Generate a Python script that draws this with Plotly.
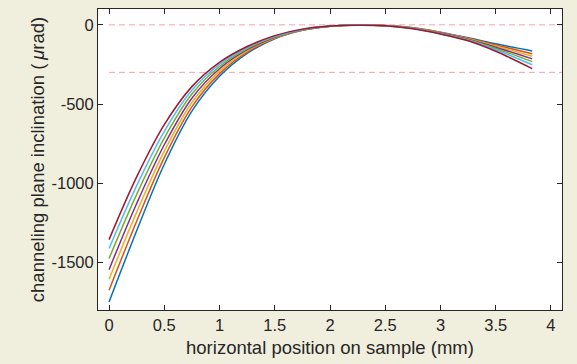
import plotly.graph_objects as go

x_pos = [0, 0.25, 0.5, 0.75, 1.0, 1.25, 1.5, 1.75, 2.0, 2.25, 2.5, 2.75, 3.0, 3.25, 3.5, 3.83]

s1 = [-1749, -1300, -880, -545, -325, -180, -88, -35, -9, 0, -4, -18, -46, -82, -120, -165]
s2 = [-1675, -1240, -838, -518, -308, -172, -85, -34, -9, 0, -4, -19, -48, -85, -127, -182]
s3 = [-1606, -1182, -797, -490, -292, -164, -82, -33, -9, 0, -4, -20, -50, -88, -134, -198]
s4 = [-1545, -1128, -757, -463, -277, -157, -79, -31, -9, -1, -5, -21, -52, -91, -141, -215]
s5 = [-1475, -1070, -715, -437, -263, -150, -76, -30, -9, -1, -5, -22, -54, -94, -149, -232]
s6 = [-1412, -1015, -672, -413, -250, -143, -72, -29, -8, -1, -5, -23, -56, -97, -157, -252]
s7 = [-1356, -960, -630, -390, -237, -137, -68, -27, -8, -2, -6, -25, -58, -101, -167, -276]

series = [s1, s2, s3, s4, s5, s6, s7]
colors = ["#0072BD", "#D95319", "#EDB120", "#7E2F8E", "#77AC30", "#4DBEEE", "#A2142F"]

ref_levels = [0, -300]
ref_x = [0, 4.1]

x_ticks = [0, 0.5, 1, 1.5, 2, 2.5, 3, 3.5, 4]
x_ticktext = ["0", "0.5", "1", "1.5", "2", "2.5", "3", "3.5", "4"]
y_ticks = [0, -500, -1000, -1500]
y_ticktext = ["0", "-500", "-1000", "-1500"]

FONT = "Liberation Sans, Arial, sans-serif"
INK = "#262626"

fig = go.Figure()

for lvl in ref_levels:
    fig.add_trace(go.Scatter(x=ref_x, y=[lvl, lvl], mode="lines",
                             line=dict(color="#F4A3AE", width=1, dash="6px,4px"),
                             showlegend=False, hoverinfo="skip"))

for s, c in zip(series, colors):
    fig.add_trace(go.Scatter(x=x_pos, y=s, mode="lines",
                             line=dict(color=c, width=1.5, shape="spline", smoothing=1.0),
                             showlegend=False))

axis_common = dict(showgrid=False, zeroline=False, showline=True, linecolor=INK,
                   linewidth=1, mirror="ticks", ticks="inside", ticklen=5, tickwidth=1,
                   tickcolor=INK, automargin=False,
                   tickfont=dict(family=FONT, size=16.5, color=INK))

fig.update_xaxes(range=[-0.1, 4.1], tickvals=x_ticks, ticktext=x_ticktext,
                 title=dict(text="horizontal position on sample (mm)",
                            font=dict(family=FONT, size=18.5, color=INK),
                            standoff=8),
                 **axis_common)
fig.update_yaxes(range=[-1800, 100], tickvals=y_ticks, ticktext=y_ticktext,
                 title=dict(text="channeling plane inclination (\u2009<i>μ</i>rad)",
                            font=dict(family=FONT, size=18.5, color=INK),
                            standoff=2),
                 **axis_common)

fig.update_layout(width=577, height=364, margin=dict(l=98, r=15, t=9, b=54),
                  paper_bgcolor="#F0EFDE", plot_bgcolor="#FFFFFF")

fig.write_html("out.html", config={"displayModeBar": False},
               post_script="document.body.style.margin='0';document.body.style.padding='0';"
                           "document.body.style.background='#F0EFDE';")
